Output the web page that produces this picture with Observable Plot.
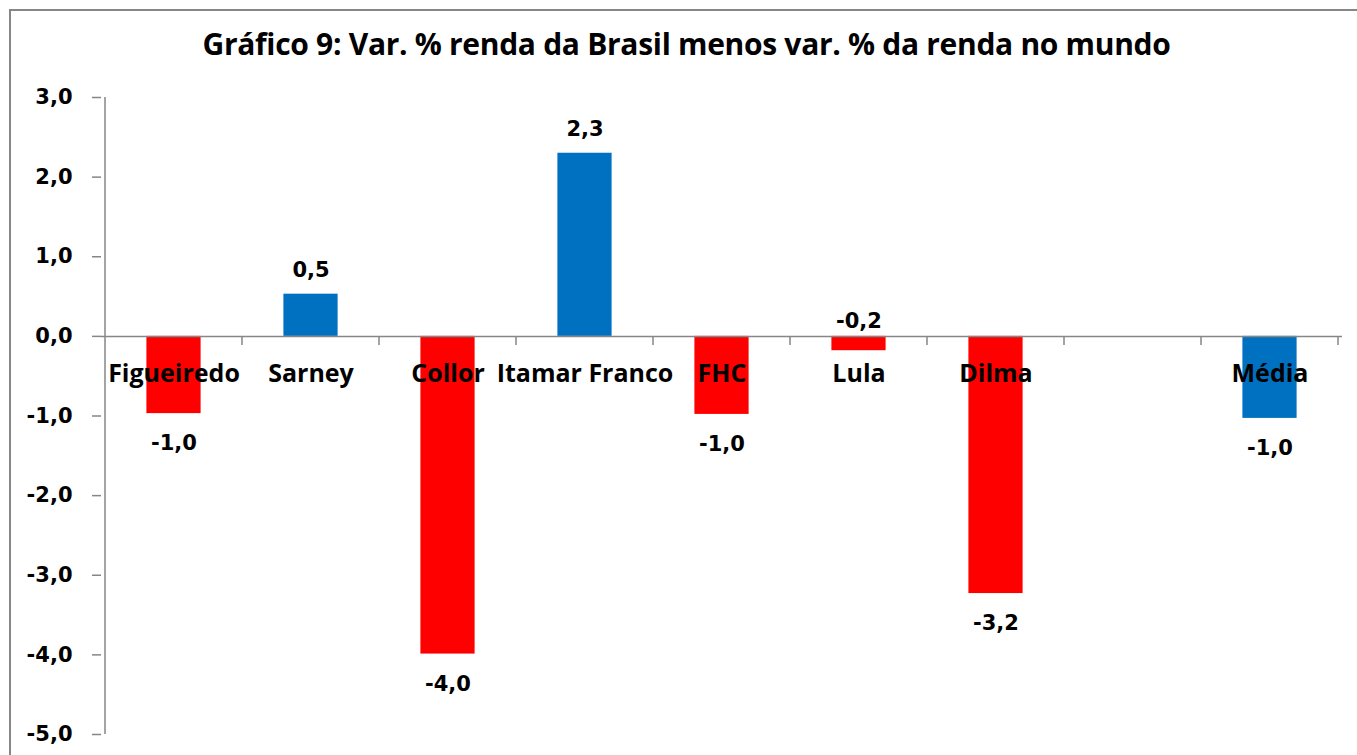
<!DOCTYPE html>
<html><head><meta charset="utf-8">
<script src="https://cdn.jsdelivr.net/npm/d3@7"></script>
<script src="https://cdn.jsdelivr.net/npm/@observablehq/plot@0.6"></script>
<style>
body{margin:0;background:#fff;}
#wrap{position:relative;width:1357px;height:755px;overflow:hidden;background:#fff;}
#frame{position:absolute;left:9px;top:9px;width:1500px;height:900px;border:2px solid #868686;pointer-events:none;}
#title{height:80px;box-sizing:border-box;padding-top:24px;padding-left:16px;text-align:center;font:bold 30px "Open Sans";color:#000;line-height:40px;letter-spacing:-0.3px;}
</style></head><body>
<div id="wrap"><div id="frame"></div><div id="title">Gráfico 9: Var. % renda da Brasil menos var. % da renda no mundo</div><div id="chart"></div></div>
<script>
const categories = ["Figueiredo","Sarney","Collor","Itamar Franco","FHC","Lula","Dilma","","Média"];
const values = [-0.97,0.53,-3.99,2.30,-0.98,-0.18,-3.23,null,-1.03];
const yTicks = [-5,-4,-3,-2,-1,0,1,2,3];
const averageCategory = "Média";

const RED = "#FF0000", BLUE = "#0070C0", GREY = "#868686";
const rows = categories.map((c,i)=>({name:c, value:values[i]})).filter(d=>d.value!=null);
const fmt = v => v.toFixed(1).replace(".", ",").replace("-0,0","0,0");
const colorOf = d => (d.name===averageCategory || d.value>=0) ? BLUE : RED;

const axisLines = (index, scales) => {
  const {x, y} = scales;
  const step = x(categories[1]) - x(categories[0]);
  const g = d3.create("svg:g").attr("stroke", GREY).attr("stroke-width", 1.5).attr("fill","none");
  const x0 = x(categories[0]);
  g.append("line").attr("x1", x0).attr("x2", x0).attr("y1", y(yTicks[yTicks.length-1])).attr("y2", y(yTicks[0]));
  const y0 = y(0);
  const bounds = categories.map(c => x(c)).concat([x(categories[categories.length-1]) + step]);
  for (const b of bounds.slice(1)) g.append("line").attr("x1", b).attr("x2", b).attr("y1", y0).attr("y2", y0 + 9);
  return g.node();
};

const plot = Plot.plot({
  width: 1357, height: 675,
  marginTop: 17, marginBottom: 21, marginLeft: 101, marginRight: 15,
  style: {fontFamily: "DejaVu Sans", background: "transparent"},
  x: {domain: categories, padding: 0, axis: null},
  y: {domain: [yTicks[0], yTicks[yTicks.length-1]], axis: null},
  color: {type: "identity"},
  marks: [
    Plot.barY(rows, {x: "name", y: "value", fill: colorOf, insetLeft: 41.4, insetRight: 41.4}),
    Plot.ruleY([0], {stroke: GREY, strokeWidth: 1.5}),
    axisLines,
    Plot.axisY({ticks: yTicks, tickFormat: fmt, label: null, tickSize: 9, tickPadding: 20, stroke: GREY, strokeWidth: 1.5, fill: "black", fontSize: 21, fontWeight: "bold"}),
    Plot.text(categories.filter(c => c !== ""), {x: d => d, y: d => 0, text: d => d, dy: 38, fontFamily: "Open Sans", fontSize: 25, fontWeight: "bold", fill: "black", letterSpacing: -0.3}),
    Plot.text(rows, {filter: d => d.value >= 0, x: "name", y: "value", text: d => fmt(d.value), dy: -24, fontSize: 21, fontWeight: "bold", fill: "black"}),
    Plot.text(rows, {filter: d => d.value < 0 && d.value > -0.5, x: "name", y: d => 0, text: d => fmt(d.value), dy: -15, fontSize: 21, fontWeight: "bold", fill: "black"}),
    Plot.text(rows, {filter: d => d.value <= -0.5, x: "name", y: "value", text: d => fmt(d.value), dy: 30, fontSize: 21, fontWeight: "bold", fill: "black"})
  ]
});
document.getElementById("chart").appendChild(plot);
</script>
</body></html>
